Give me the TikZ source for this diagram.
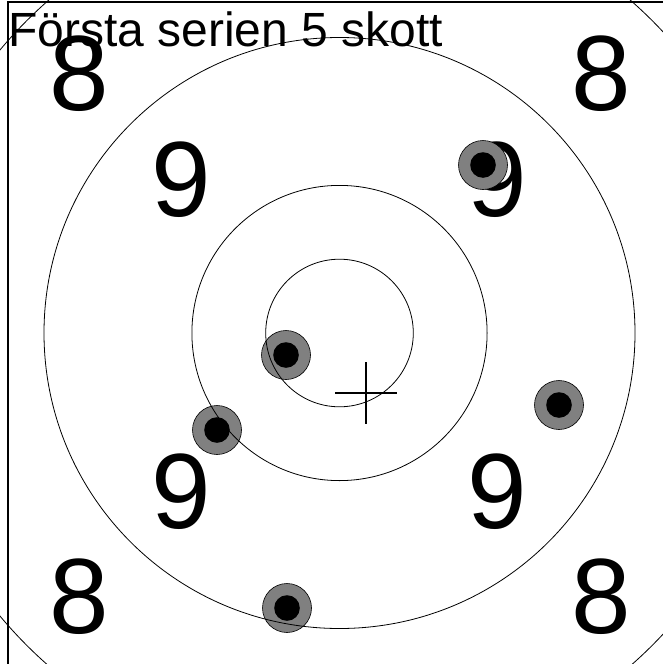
\documentclass[tikz,border=0pt]{standalone}
\usepackage{fontspec}
\setmainfont{Liberation Sans}
\begin{document}
\begin{tikzpicture}[x=1pt,y=-1pt,
  digit/.style={inner sep=0pt,font=\fontsize{107}{107}\selectfont},
  ring/.style={draw=black,line width=0.8pt},
  shot/.style={circle,draw=black,line width=0.6pt,fill=gray,minimum size=49pt,inner sep=0pt,
    path picture={\fill[black] (path picture bounding box.center) circle (12.8pt);}},
  crossline/.style={line width=2.9pt}]
\useasboundingbox (0,0) rectangle (663,664);
\coordinate (c) at (339.5,333);
% title
\node[anchor=base west,inner sep=0pt,font=\fontsize{48}{48}\selectfont] (title) at (8,46) {Första serien 5 skott};
% ring values
\node[digit] (e1) at (79,74) {8};
\node[digit] (e2) at (601,74) {8};
\node[digit] (e3) at (79,597) {8};
\node[digit] (e4) at (601,597) {8};
\node[digit] (n1) at (181,180) {9};
\node[digit] (n2) at (497,180) {9};
\node[digit] (n3) at (181,492) {9};
\node[digit] (n4) at (497,492) {9};
% shots
\node[shot] (s1) at (286,355) {};
\node[shot] (s2) at (483,165) {};
\node[shot] (s3) at (559,405) {};
\node[shot] (s4) at (217,430) {};
\node[shot] (s5) at (287,608) {};
% rings
\begin{scope}
\clip (0,0) rectangle (663,664);
\draw[ring] (c) circle (73.8);
\draw[ring] (c) circle (147.6);
\draw[ring] (c) circle (295.5);
\draw[ring] (c) circle (442);
\end{scope}
% aiming cross
\coordinate (ch1) at (335,393);
\coordinate (ch2) at (397,393);
\coordinate (cv1) at (366,362);
\coordinate (cv2) at (366,424);
\draw[crossline] (ch1) -- (ch2);
\draw[crossline] (cv1) -- (cv2);
% frame
\coordinate (f0) at (8,664);
\coordinate (f1) at (8,2);
\coordinate (f2) at (663,2);
\draw[line width=1.2pt] (f0) -- (f1) -- (f2);
\end{tikzpicture}
\end{document}
